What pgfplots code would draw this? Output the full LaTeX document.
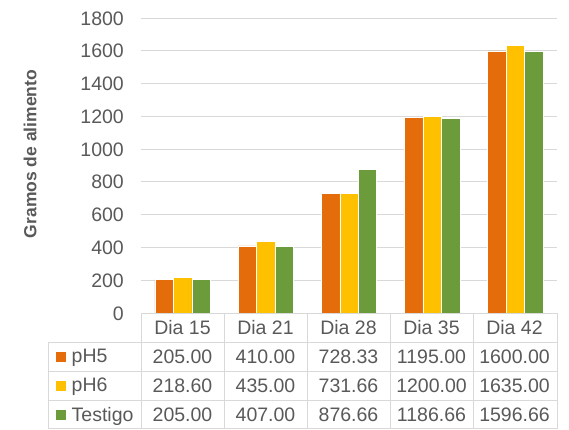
\documentclass[border=0pt]{standalone}
\usepackage{fontspec}
\setmainfont{Liberation Sans}
\usepackage{pgfplots}
\usepackage{pgfplotstable}
\pgfplotsset{compat=1.18}
\definecolor{cOr}{HTML}{E46C0A}
\definecolor{cYe}{HTML}{FFC000}
\definecolor{cGr}{HTML}{6B9B3A}
\definecolor{cTx}{HTML}{595959}
\definecolor{cGd}{HTML}{D9D9D9}
\pgfplotstableread{
x pH5 pH6 Testigo
0.5 205 218.6 205
1.5 410 435 407
2.5 728.33 731.66 876.66
3.5 1195 1200 1186.66
4.5 1600 1635 1596.66
}\data
\newcommand{\fs}{\fontsize{19.5}{23}\selectfont}
\begin{document}
\begin{tikzpicture}[x=1pt,y=1pt]
\useasboundingbox (0,0) rectangle (569,429);
\begin{axis}[
  at={(141pt,116pt)}, anchor=south west,
  scale only axis, width=416pt, height=295pt,
  xmin=0, xmax=5, ymin=0, ymax=1800,
  ytick={0,200,...,1800},
  xtick=\empty,
  axis line style={draw=none},
  major tick length=0pt,
  ymajorgrids, grid style={cGd, line width=1pt},
  /pgf/number format/assume math mode=true,
  /pgf/number format/1000 sep={},
  yticklabel style={font=\fs, text=cTx, anchor=base east, inner sep=0pt, xshift=-17pt, yshift=-7pt},
  ylabel={Gramos de alimento},
  ylabel style={font=\fontsize{17.5}{20}\selectfont\bfseries, text=cTx, at={(axis description cs:-0.2668,0.539)}, anchor=center, rotate=0},
  ybar=0pt, bar width=0.222,
  legend style={at={(axis description cs:-0.2043,-0.0983)}, anchor=north west, draw=none, fill=none, inner sep=0pt, row sep=0pt, column sep=6pt,
    nodes={inner sep=0pt, minimum height=29pt, font=\fs, text=cTx}},
  legend cell align=left,
]
\addplot[fill=cOr, draw=white, line width=0.5pt, legend image code/.code={\fill[cOr] (0pt,-4.5pt) rectangle (9pt,4.5pt);}] table[x=x,y=pH5]{\data};
\addplot[fill=cYe, draw=white, line width=0.5pt, legend image code/.code={\fill[cYe] (0pt,-4.5pt) rectangle (9pt,4.5pt);}] table[x=x,y=pH6]{\data};
\addplot[fill=cGr, draw=white, line width=0.5pt, legend image code/.code={\fill[cGr] (0pt,-4.5pt) rectangle (9pt,4.5pt);}] table[x=x,y=Testigo]{\data};
\legend{pH5,pH6,Testigo}
\end{axis}
% data table grid
\begin{scope}[cGd, line width=1pt]
  \draw (141,{429-313}) -- (557,{429-313});
  \foreach \yy in {342,371,400,428.5} \draw (48,{429-\yy}) -- (557,{429-\yy});
  \draw (48,{429-342}) -- (48,{429-428.5});
  \foreach \xx in {141,224,307,390,473,557} \draw (\xx,{429-313}) -- (\xx,{429-428.5});
\end{scope}
\foreach \lab [count=\r from 0] in {Dia 15,Dia 21,Dia 28,Dia 35,Dia 42}
  \node[anchor=base, inner sep=0pt, font=\fs, text=cTx] at ({182.5+83*\r},{429-327.5-7}) {\lab};
\foreach \c [count=\i from 0] in {pH5,pH6,Testigo} {
  \foreach \r in {0,...,4} {
    \pgfplotstablegetelem{\r}{\c}\of\data
    \node[anchor=base, inner sep=0pt, font=\fs, text=cTx] at ({182.5+83*\r},{429-356.5-7-29*\i})
      {\pgfmathprintnumber[fixed, fixed zerofill, precision=2, 1000 sep={}, assume math mode=true]{\pgfplotsretval}};
  }
}
\end{tikzpicture}
\end{document}
